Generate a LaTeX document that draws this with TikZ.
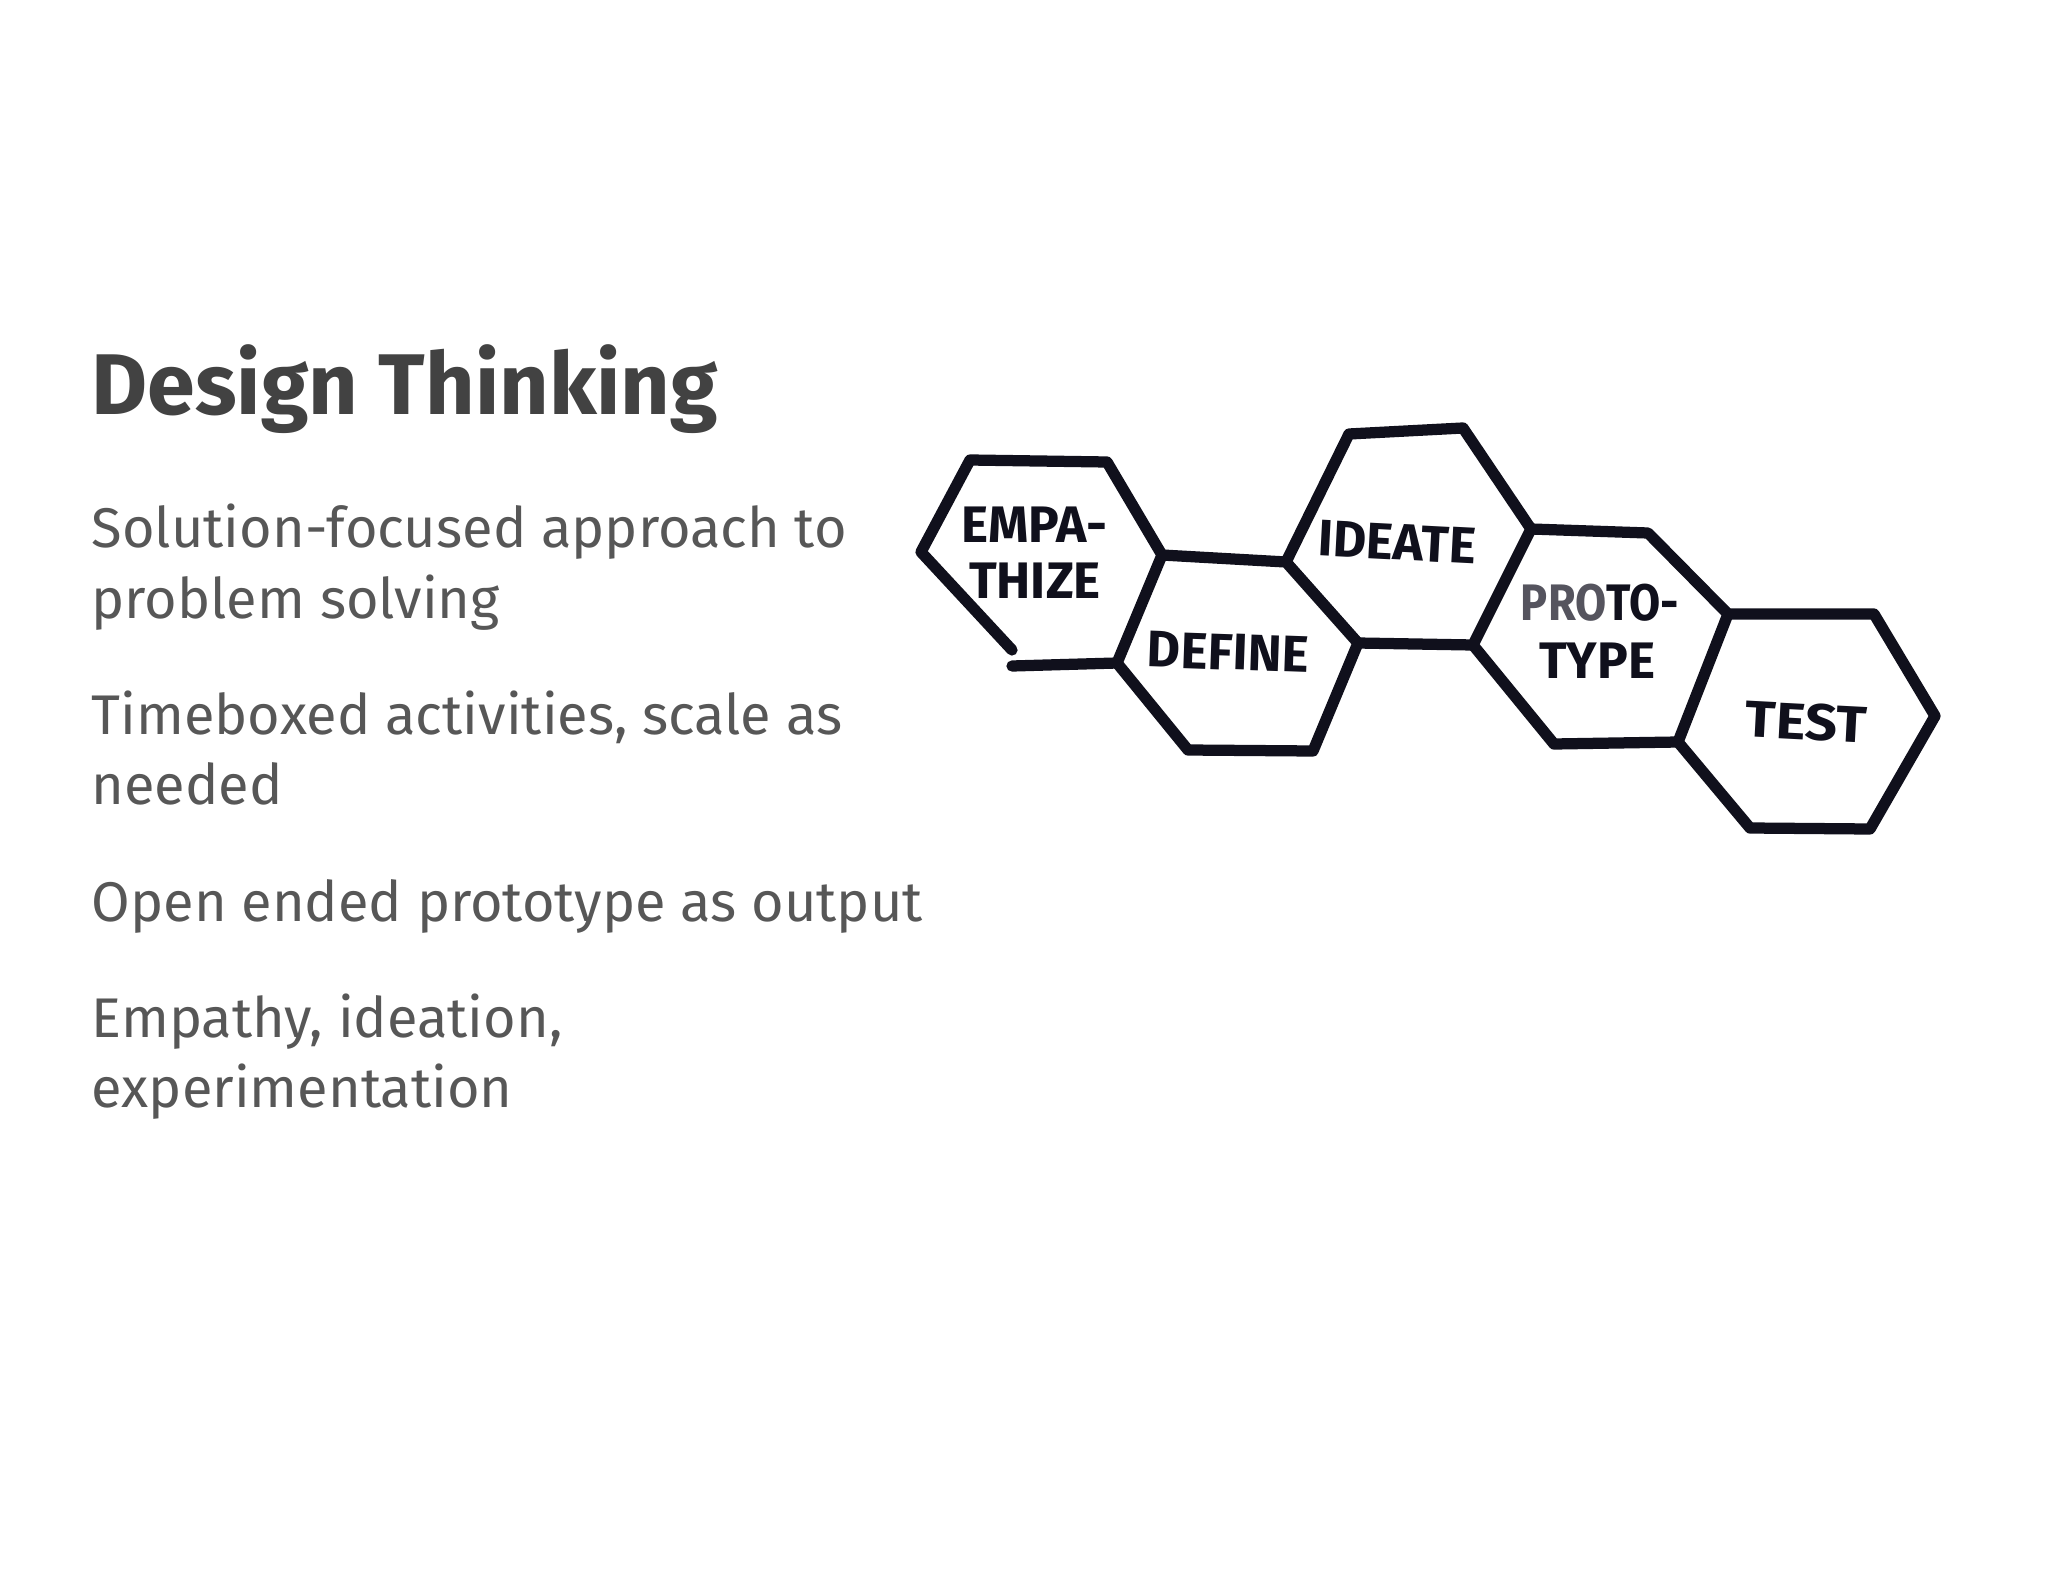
\documentclass[tikz,border=0pt]{standalone}
\usepackage{fontspec}
\setmainfont{Fira Sans}
\newfontfamily\handfont{Fira Sans}
\definecolor{titlegray}{HTML}{424242}
\definecolor{bodygray}{HTML}{575757}
\definecolor{marker}{HTML}{10101C}
\definecolor{markergray}{HTML}{55545E}
\tikzset{
  hex/.style={line width=3.2pt, draw=marker, line cap=round, line join=round},
  hand/.style={font=\handfont\bfseries\fontsize{14.6}{17}\selectfont, text=marker, inner sep=0pt},
  body/.style={anchor=base west, font=\fontsize{15.9}{19}\selectfont, text=bodygray, inner sep=0pt},
}
\newcommand{\stretchto}[2]{\scalebox{#1}[1]{#2}}

\begin{document}
\begin{tikzpicture}[x=0.01cm, y=-0.01cm]
\useasboundingbox (0,0) rectangle (2048,1582);

% left column
\node[anchor=base west, inner sep=0pt, font=\bfseries\fontsize{24.5}{29}\selectfont, text=titlegray] (title) at (91,414) {Design Thinking};
\node[body] (sol1) at (91,547) {Solution-focused approach to};
\node[body] (sol2) at (91,618) {problem solving};
\node[body] (time1) at (91,734) {Timeboxed activities, scale as};
\node[body] (time2) at (91,804) {needed};
\node[body] (open) at (91,921) {Open ended prototype as output};
\node[body] (emp1) at (91,1037) {Empathy, ideation,};
\node[body] (emp2) at (91,1107) {experimentation};

% hexagons
\draw[hex] (1012,650)--(921,552)--(970,460)--(1107,462)--(1162,555)--(1117,663)--(1012,666);
\draw[hex] (1162,555)--(1286,562)--(1358,643)--(1313,751)--(1188,750)--(1117,663);
\draw[hex] (1286,562)--(1349,434)--(1463,428)--(1531,529)--(1473,645)--(1358,643);
\draw[hex] (1531,529)--(1648,533)--(1728,614)--(1678,742)--(1554,744)--(1473,645);
\draw[hex] (1728,614)--(1874,614)--(1935,716)--(1870,829)--(1750,828)--(1678,742);

% labels
\node[hand] (empa) at (1034,525) {EMPA-};
\node[hand] (thize) at (1035,581) {THIZE};
\node[hand, rotate=-2] (define) at (1228,652) {DEFINE};
\node[hand, rotate=-3] (ideate) at (1397,542) {IDEATE};
\node[hand] (proto) at (1600,603) {\stretchto{0.88}{{\color{markergray}PRO}TO-}};
\node[hand] (type) at (1597,661) {TYPE};
\node[hand, rotate=-3] (test) at (1806,722) {\stretchto{1.1}{TEST}};
\end{tikzpicture}
\end{document}
